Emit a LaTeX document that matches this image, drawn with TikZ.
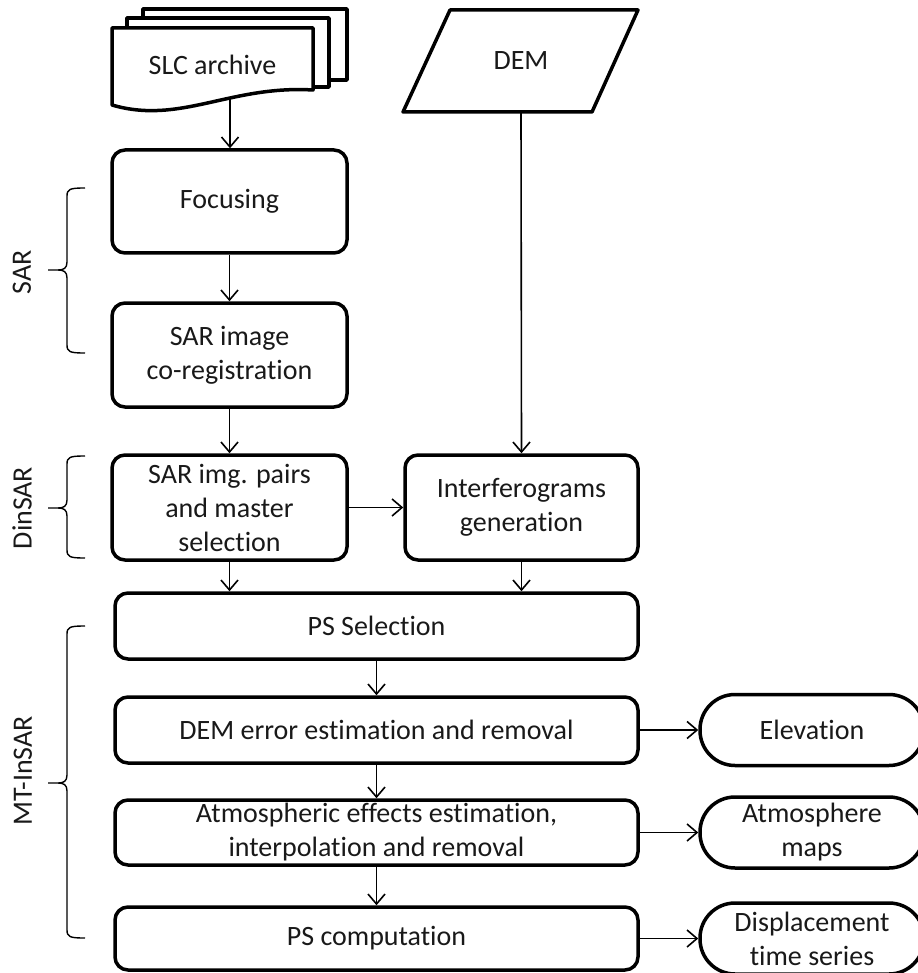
\documentclass[tikz,border=0pt]{standalone}
\usepackage{fontspec}
\setmainfont{Carlito}[Ligatures=NoCommon]
\usetikzlibrary{arrows.meta}
\newcommand{\mybrace}[3]{%
  \draw[brc] (85,#1) .. controls (70,#1) and (67,{#1+1}) .. (67,{#1+8})
    -- (67,{#2-8}) .. controls (67,{#2-2}) and (64,#2) .. (58,#2) -- (48,#2)
    (58,#2) .. controls (64,#2) and (67,{#2+2}) .. (67,{#2+8})
    -- (67,{#3-8}) .. controls (67,{#3-1}) and (70,#3) .. (85,#3);}
\begin{document}
\begin{tikzpicture}[x=1pt,y=-1pt,
  every node/.style={font=\fontsize{28}{34}\selectfont, align=center, inner sep=0pt, text=black!90},
  proc/.style={draw, line width=3.5pt, rounded corners=13pt},
  term/.style={draw, line width=3.5pt, rounded corners=35pt, minimum height=71pt, minimum width=224pt},
  arr/.style={line width=1.6pt, -{Straight Barb[length=10pt,width=17pt]}},
  brc/.style={line width=1.4pt, line join=round},
  lbl/.style={rotate=90}
]
\useasboundingbox (0,0) rectangle (917,973);

% SLC archive (multi-document)
\draw[line width=3.5pt, fill=white, line join=round] (143,9) rectangle (347,80);
\draw[line width=3.5pt, fill=white, line join=round] (127,18) rectangle (329,87);
\draw[line width=3.5pt, fill=white, line join=round] (112,28) -- (313,28) -- (313,90)
   .. controls (230,85) and (180,125) .. (112,105) -- cycle;
\node (slc) at (212.5,65) {SLC archive};
\coordinate (slcb) at (230,98);

% DEM (data parallelogram)
\node[minimum width=188pt, minimum height=102pt] (dem) at (521,61) {DEM};
\draw[line width=3.5pt, line join=round] (450,10) -- (638,10) -- (592,112) -- (403,112) -- cycle;

% process boxes
\node[proc, minimum width=235pt, minimum height=103pt] (focus) at (229.5,201.5) {Focusing};
\node[proc, minimum width=235pt, minimum height=104pt] (coreg) at (229.5,355) {SAR image\\co-registration};
\node[proc, minimum width=235pt, minimum height=105pt] (pairs) at (229.5,507.5) {SAR img. pairs\\and master\\selection};
\node[proc, minimum width=233pt, minimum height=105pt] (interf) at (521.5,507.5) {Interferograms\\generation};
\node[proc, minimum width=523pt, minimum height=66pt] (pssel) at (376.5,626) {PS Selection};
\node[proc, minimum width=523pt, minimum height=66pt] (demerr) at (376.5,730) {DEM error estimation and removal};
\node[proc, minimum width=523pt, minimum height=65pt] (atm) at (376.5,832.5) {Atmospheric effects estimation,\\interpolation and removal};
\node[proc, minimum width=523pt, minimum height=63pt] (pscomp) at (376.5,938.5) {PS computation};

% terminals
\node[term] (elev) at (812,730) {Elevation};
\node[term] (atmmap) at (812,832.5) {Atmosphere\\maps};
\node[term] (disp) at (812,938.5) {Displacement\\time series};

% connectors
\draw[arr] (slcb) -- (slcb |- focus.north);
\draw[arr] (focus) -- (coreg);
\draw[arr] (coreg) -- (pairs);
\draw[arr] (dem.south) -- (interf.north);
\draw[arr] (pairs) -- (interf);
\draw[arr] (pairs.south) -- (pairs.south |- pssel.north);
\draw[arr] (interf.south) -- (interf.south |- pssel.north);
\draw[arr] (pssel) -- (demerr);
\draw[arr] (demerr) -- (atm);
\draw[arr] (atm) -- (pscomp);
\draw[arr] (demerr) -- (elev);
\draw[arr] (atm) -- (atmmap);
\draw[arr] (pscomp) -- (disp);

% braces and labels
\mybrace{188}{270}{353}
\mybrace{456}{508}{558}
\mybrace{626}{783}{938}
\node[lbl] (sarl) at (22,272) {SAR};
\node[lbl] (dinl) at (22,508) {DinSAR};
\node[lbl] (mtl) at (23,771) {MT-InSAR};
\end{tikzpicture}
\end{document}
